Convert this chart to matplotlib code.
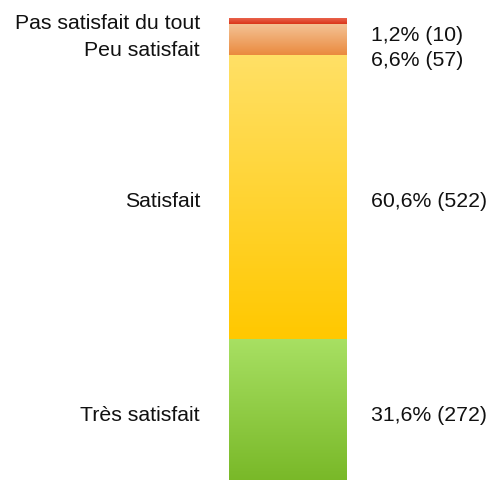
import numpy as np
import matplotlib.pyplot as plt
from matplotlib.colors import LinearSegmentedColormap

plt.rcParams["font.family"] = ["Liberation Sans", "DejaVu Sans"]

# stacked from the bottom up
categories = ["Très satisfait", "Satisfait", "Peu satisfait", "Pas satisfait du tout"]
counts = [272, 522, 57, 10]
percents = ["31,6%", "60,6%", "6,6%", "1,2%"]

# gradient colours (top, bottom) per segment
grad_colors = [("#a8e063", "#77b726"),
               ("#ffe066", "#ffc800"),
               ("#f4c295", "#ea8a3e"),
               ("#e9634c", "#da3419")]

# label nudges in pixels (left label dy, right label dy) for the thin segments
left_dy = [-2, -4, -10, -2]
right_dy = [-2, -4, -20, -14]

fig = plt.figure(figsize=(4.92, 4.81), dpi=100)
ax = fig.add_axes([0.4654, -0.0135, 0.2398, 0.9735])

bottoms = np.concatenate([[0], np.cumsum(counts)[:-1]])
bars = ax.bar(0, counts, bottom=bottoms, width=1, color="none", edgecolor="none")

grad = np.linspace(1, 0, 256).reshape(-1, 1)
for i, bar in enumerate(bars):
    x, y = bar.get_x(), bar.get_y()
    w, h = bar.get_width(), bar.get_height()
    top_c, bot_c = grad_colors[i]
    cmap = LinearSegmentedColormap.from_list("seg%d" % i, [bot_c, top_c])
    ax.imshow(grad, cmap=cmap, extent=[x, x + w, y, y + h], aspect="auto",
              interpolation="bilinear", origin="upper", zorder=2)

    yc = y + h / 2
    ax.annotate(categories[i], xy=(x, yc), xytext=(-29, left_dy[i]),
                textcoords="offset pixels", ha="right", va="center",
                fontsize=15.3, color="#111111", annotation_clip=False)
    ax.annotate("%s (%d)" % (percents[i], counts[i]), xy=(x + w, yc),
                xytext=(24, right_dy[i]), textcoords="offset pixels",
                ha="left", va="center", fontsize=15.3, color="#111111",
                annotation_clip=False)

ax.set_xlim(-0.5, 0.5)
ax.set_ylim(0, sum(counts))
ax.axis("off")

fig.savefig("out.png", dpi=100)
